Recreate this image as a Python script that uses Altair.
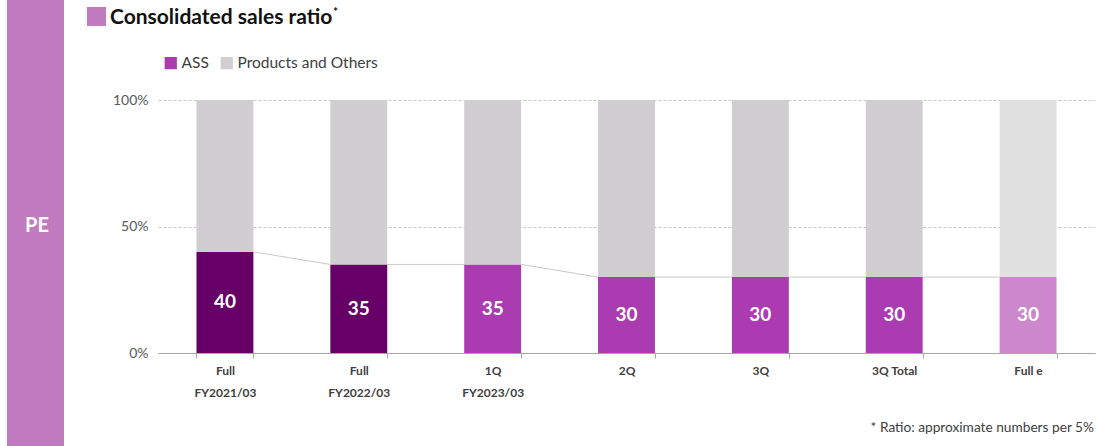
import altair as alt
import pandas as pd

# ---- data ----
categories = ["Full|FY2021/03", "Full|FY2022/03", "1Q|FY2023/03", "2Q", "3Q", "3Q Total", "Full e"]
ass_share = [40, 35, 35, 30, 30, 30, 30]
others_share = [60, 65, 65, 70, 70, 70, 70]
series_names = ["ASS", "Products and Others"]
y_ticks = [0, 50, 100]

# ---- styles ----
ass_fill = ["#660066", "#660066", "#AB3BB1", "#AB3BB1", "#AB3BB1", "#AB3BB1", "#CD88CD"]
others_fill = ["#D0CED0", "#D0CED0", "#D0CED0", "#D0CED0", "#D0CED0", "#D0CED0", "#E2E1E2"]
series_colors = ["#AB3BB1", "#D0CED0"]
FONT = "Lato"
TXT = "#404040"

rows = []
for c, a, o, fa, fo in zip(categories, ass_share, others_share, ass_fill, others_fill):
    rows.append(dict(cat=c, series="ASS", start=0, end=a, fill=fa, mid=a / 2, label=str(a)))
    rows.append(dict(cat=c, series="Products and Others", start=a, end=a + o, fill=fo, mid=a + o / 2, label=""))
bars_df = pd.DataFrame(rows)

conn_df = pd.DataFrame(dict(
    cat=categories[:-1], nxt=categories[1:], v=ass_share[:-1], v2=ass_share[1:]
))

x_scale = alt.Scale(domain=categories, paddingInner=0.575, paddingOuter=0.2875)
y_scale = alt.Scale(domain=[0, 100], nice=False)

x_axis = alt.Axis(
    title=None, labelAngle=0, labelExpr="split(datum.label, '|')",
    labelFont=FONT, labelFontSize=12, labelFontWeight="bold", labelColor=TXT,
    labelLineHeight=22, labelPadding=7, labelBaseline="top",
    domainColor="#A6A6A6", domainWidth=1.2, tickColor="#A6A6A6", tickSize=5,
    tickBand="extent", grid=False,
)
y_axis = alt.Axis(
    title=None, values=y_ticks, labelExpr="datum.value + '%'",
    labelFont=FONT, labelFontSize=14, labelColor="#595959", labelPadding=10,
    domain=False, ticks=False, grid=True, gridDash=[3, 2], gridColor="#C8C8C8",
)

bars = alt.Chart(bars_df).mark_bar().encode(
    x=alt.X("cat:N", sort=categories, scale=x_scale, axis=x_axis),
    y=alt.Y("start:Q", scale=y_scale, axis=y_axis),
    y2="end:Q",
    fill=alt.Fill("fill:N", scale=None),
)

labels = alt.Chart(bars_df[bars_df["series"] == "ASS"]).mark_text(
    font=FONT, fontSize=19, fontWeight="bold", color="white", baseline="middle"
).encode(
    x=alt.X("cat:N", sort=categories, scale=x_scale),
    y=alt.Y("mid:Q", scale=y_scale),
    text="label:N",
)

connectors = alt.Chart(conn_df).mark_rule(color="#C8C8C8", strokeWidth=1).encode(
    x=alt.X("cat:N", sort=categories, scale=x_scale, bandPosition=1),
    x2=alt.X2("nxt:N", bandPosition=0),
    y=alt.Y("v:Q", scale=y_scale),
    y2="v2:Q",
)

legend_df = pd.DataFrame(dict(series=series_names))
legend_layer = alt.Chart(legend_df).mark_square(opacity=0, size=0).encode(
    color=alt.Color(
        "series:N",
        scale=alt.Scale(domain=series_names, range=series_colors),
        legend=alt.Legend(
            title=None, orient="none", legendX=5, legendY=-45, direction="horizontal",
            symbolType="square", symbolSize=150, symbolOpacity=1, symbolStrokeWidth=0,
            labelFont=FONT, labelFontSize=15.5, labelColor=TXT, labelOffset=3,
            columnPadding=10,
        ),
    )
)

one = pd.DataFrame({"a": [0]})
sidebar = alt.Chart(one).mark_rect(color="#C17BBE").encode(
    x=alt.value(-151), x2=alt.value(-94), y=alt.value(-100), y2=alt.value(346)
)
pe_text = alt.Chart(one).mark_text(
    text="PE", font=FONT, fontSize=20, fontWeight="bold", color="white", align="center", baseline="middle"
).encode(x=alt.value(-121), y=alt.value(126))
title_sq = alt.Chart(one).mark_rect(color="#C17BBE").encode(
    x=alt.value(-71), x2=alt.value(-52), y=alt.value(-93), y2=alt.value(-74)
)
title_txt = alt.Chart(one).mark_text(
    text="Consolidated sales ratio", font=FONT, fontSize=21, fontWeight="bold", color="#111111",
    align="left", baseline="middle"
).encode(x=alt.value(-48), y=alt.value(-82))
title_star = alt.Chart(one).mark_text(
    text="*", font=FONT, fontSize=12, fontWeight="bold", color="#111111",
    align="left", baseline="middle"
).encode(x=alt.value(175), y=alt.value(-88))
footnote = alt.Chart(one).mark_text(
    text="* Ratio: approximate numbers per 5%", font=FONT, fontSize=13.7, color=TXT,
    align="right", baseline="middle"
).encode(x=alt.value(936), y=alt.value(328))

chart = alt.layer(
    sidebar, pe_text, title_sq, title_txt, title_star, footnote,
    bars, connectors, labels, legend_layer,
).properties(
    width=937, height=253,
    background="white",
    autosize=alt.AutoSizeParams(type="none"),
    padding={"left": 158, "top": 100, "right": 1, "bottom": 93},
).configure_view(stroke=None)

chart.save("out.html", embed_options={"renderer": "svg", "actions": False})
